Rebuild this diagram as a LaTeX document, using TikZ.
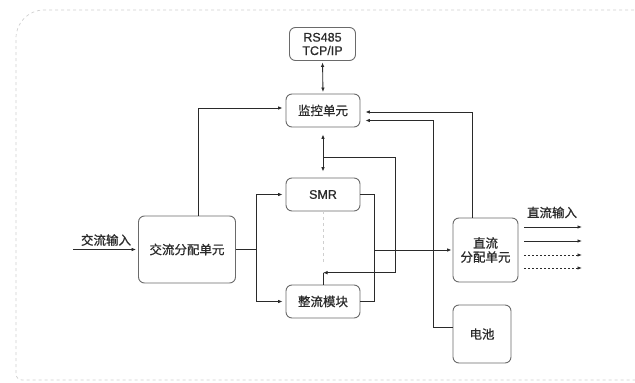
\documentclass[tikz,border=0pt]{standalone}
\usepackage{fontspec}
\setmainfont{Noto Sans CJK SC}[FakeBold=0.8]
\newfontfamily\latinsf{Liberation Sans}[FakeBold=0.6]
\usetikzlibrary{arrows.meta}
\definecolor{ink}{HTML}{2A2A2A}
\definecolor{boxline}{HTML}{6A6A6A}
\definecolor{framec}{HTML}{CFCFCF}
\tikzset{
  blk/.style={draw=boxline, line width=0.9pt, rounded corners=6pt, align=center,
    font=\fontsize{12.5pt}{14pt}\selectfont, text=ink, inner sep=0pt},
  conn/.style={draw=ink, line width=0.85pt},
  arr/.style={conn, -{Latex[length=4.5pt,width=3.6pt]}},
  darr/.style={conn, {Latex[length=4.5pt,width=3.6pt]}-{Latex[length=4.5pt,width=3.6pt]}},
  lbl/.style={font=\fontsize{12.5pt}{14pt}\selectfont, text=ink, inner sep=0pt},
}
\begin{document}
\begin{tikzpicture}[x=1pt,y=-1pt]
\useasboundingbox (0,0) rectangle (635,383);
% frame
\draw[framec, dashed, line width=0.7pt] (640,10) [rounded corners=28pt] -- (16,10) [rounded corners=6pt] -- (16,380) -- (640,380);

% nodes
\node[blk, minimum width=66pt, minimum height=33pt, font=\latinsf\fontsize{12.5pt}{13.4pt}\selectfont] (rs) at (322.5,44) {RS485\\TCP/IP};
\node[blk, minimum width=74pt, minimum height=33pt] (mon) at (323,110.5) {监控单元};
\node[blk, minimum width=74pt, minimum height=33pt, font=\latinsf\fontsize{12.5pt}{14pt}\selectfont] (smr) at (323,194.5) {SMR};
\node[blk, minimum width=74pt, minimum height=33pt] (rect) at (323,301.5) {整流模块};
\node[blk, minimum width=97pt, minimum height=67pt] (ac) at (187,249.5) {交流分配单元};
\node[blk, minimum width=65pt, minimum height=64pt] (dc) at (485.5,250) {直流\\分配单元};
\node[blk, minimum width=58pt, minimum height=58pt] (bat) at (482,334) {电池};

% labels
\node[lbl] (acl) at (106,240) {交流输入};
\node[lbl] (dcl) at (552,212.5) {直流输入};

% helper coordinates
\coordinate (acin) at (73,249.5);
\coordinate (splitx) at (256,0);
\coordinate (mergex) at (374.5,0);
\coordinate (busx) at (395.5,0);
\coordinate (busy) at (0,272.7);
\coordinate (tapy) at (0,157);
\coordinate (batx) at (433,0);
\coordinate (m1) at ([yshift=-1.5pt]mon.east);
\coordinate (m2) at ([yshift=-10pt]mon.east);
\coordinate (acup) at ([xshift=11pt]ac.north);
\coordinate (dcup) at ([xshift=-13pt]dc.north);
\coordinate (batin) at ([yshift=7pt]bat.west);
\coordinate (monin) at ([yshift=2.5pt]mon.west);

% RS485 <-> monitor
\draw[darr, shorten <=1.5pt, shorten >=1.5pt] (rs.south) -- (mon.north);
% AC dist -> monitor
\draw[arr, shorten >=3pt] (acup) |- (monin);
% DC dist -> monitor
\draw[arr, shorten >=5pt] (dcup) |- (m1);
% battery -> monitor
\draw[arr, shorten >=5pt] (batin) -| (batx |- m2) -- (m2);
% monitor <-> SMR
\draw[darr, shorten <=7pt, shorten >=6pt] (mon.south) -- (smr.north);
% bus from monitor line to rectifier
\draw[arr] (mon.south |- tapy) -| (busx |- busy) -- (smr.south |- busy);
\draw[conn] (rect.north) -- (rect.north |- busy);
% dotted between modules
\draw[framec, dashed, line width=0.8pt] (smr.south) -- ([yshift=-53pt]smr.south);
% AC input
\draw[arr, shorten >=2pt] (acin) -- (ac.west);
% AC dist -> SMR / rectifier
\draw[conn] (ac.east) -- (ac.east -| splitx);
\draw[arr, shorten >=3pt] (ac.east -| splitx) |- (smr.west);
\draw[arr, shorten >=3pt] (ac.east -| splitx) |- (rect.west);
% SMR / rectifier -> DC dist
\draw[conn] (smr.east) -- (smr.east -| mergex) -- (rect.east -| mergex) -- (rect.east);
\draw[arr, shorten >=1pt] (mergex |- dc.west) -- (dc.west);
% DC outputs
\coordinate (o1s) at (524,227); \coordinate (o1e) at (582,227);
\coordinate (o2s) at (524,241); \coordinate (o2e) at (582,241);
\coordinate (o3s) at (524,255); \coordinate (o3e) at (582,255);
\coordinate (o4s) at (524,268); \coordinate (o4e) at (582,268);
\draw[arr] (o1s) -- (o1e);
\draw[arr] (o2s) -- (o2e);
\draw[arr, dash pattern=on 1.5pt off 2.5pt] (o3s) -- (o3e);
\draw[arr, dash pattern=on 1.5pt off 2.5pt] (o4s) -- (o4e);
\end{tikzpicture}
\end{document}
